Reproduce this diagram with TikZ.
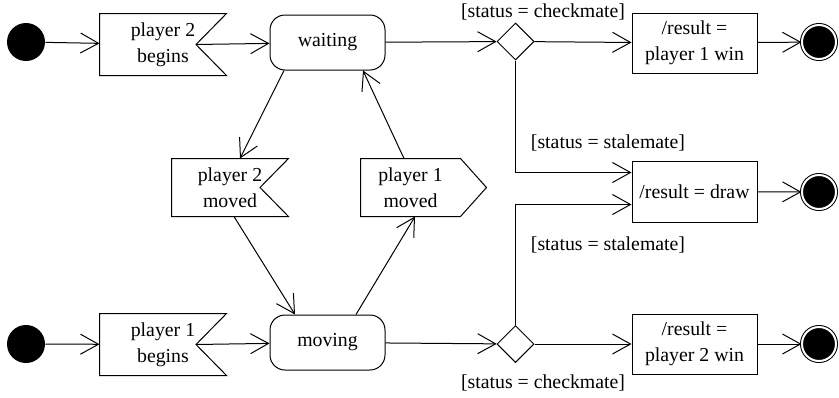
\documentclass[tikz,border=0pt]{standalone}
\usepackage{fontspec}
\setmainfont{Liberation Serif}
\usetikzlibrary{arrows.meta,shapes.geometric}

\begin{document}
\begin{tikzpicture}[
      x=1pt,y=-1pt,line width=1pt,
      >={Straight Barb[length=18pt,width=20pt]},
      font=\fontsize{19.8}{26}\selectfont,
      initial/.style={circle,fill=black,minimum size=38pt,inner sep=0pt},
      final/.style={circle,fill=black,draw,double=white,double distance=2pt,minimum size=34pt,inner sep=0pt},
      state/.style={draw,rounded corners=15pt,minimum width=115pt,minimum height=55pt},
      accept/.style 2 args={align=center,minimum width=#1,minimum height=2*#2,inner sep=0pt,
        append after command={\pgfextra{\draw (\tikzlastnode.north west) -- (\tikzlastnode.north east)
          -- ([xshift=-#2]\tikzlastnode.east) -- (\tikzlastnode.south east)
          -- (\tikzlastnode.south west) -- cycle;}}},
      send/.style 2 args={align=center,minimum width=#1,minimum height=57pt,inner sep=0pt,
        append after command={\pgfextra{\draw (\tikzlastnode.north west) -- (\tikzlastnode.north east)
          -- ([xshift=#2]\tikzlastnode.east) -- (\tikzlastnode.south east)
          -- (\tikzlastnode.south west) -- cycle;}}},
      action/.style={draw,align=center,minimum width=125pt,minimum height=60pt,inner sep=2pt},
      choice/.style={draw,diamond,aspect=1,minimum size=37pt,inner sep=0pt}]
    \useasboundingbox (0,0) rectangle (839,397);
    % top row
    \node[initial] (init1) at (26,42) {};
    \node[accept={126pt}{30.5pt}] (p2begins) at (163,44.5) {player 2\\begins};
    \node[state] (waiting) at (327.5,42.5) {waiting};
    \node[choice] (dtop) at (515.5,41.5) {};
    \node[action] (res1) at (694.5,43) {/result =\\player 1 win};
    \node[final] (final1) at (819,42) {};
    % middle
    \node[accept={116pt}{28.5pt}] (p2moved) at (230,187.5) {player 2\\moved};
    \node[send={99pt}{26pt}] (p1moved) at (410.5,187.5) {player 1\\moved};
    \node[action,minimum height=61pt] (resdraw) at (694.5,191.5) {/result = draw};
    \node[final] (final2) at (819,192) {};
    % bottom row
    \node[initial] (init2) at (26,344) {};
    \node[accept={126pt}{30.5pt}] (p1begins) at (163,344.5) {player 1\\begins};
    \node[state] (moving) at (327.5,342.5) {moving};
    \node[choice] (dbot) at (515.5,344) {};
    \node[action] (res2) at (694.5,344) {/result =\\player 2 win};
    \node[final] (final3) at (819,344) {};
    % guards
    \node (g1) at (543,12) {[status = checkmate]};
    \node (g2) at (608,143) {[status = stalemate]};
    \node (g3) at (608,245) {[status = stalemate]};
    \node (g4) at (543,383) {[status = checkmate]};

    \draw[->] (init1) -- (p2begins);
    \draw[->] ([xshift=-30.5pt]p2begins.east) -- (waiting);
    \draw[->] (waiting) -- (dtop);
    \draw[->] (dtop) -- (res1);
    \draw[->] (res1) -- (final1);
    \draw[->] (init2) -- (p1begins);
    \draw[->] ([xshift=-30.5pt]p1begins.east) -- (moving);
    \draw[->] (moving) -- (dbot);
    \draw[->] (dbot) -- (res2);
    \draw[->] (res2) -- (final3);
    \draw[->] (resdraw) -- (final2);
    \draw[->] (dtop.south) |- ([yshift=19pt]resdraw.west);
    \draw[->] (dbot.north) |- ([yshift=-13pt]resdraw.west);
    \draw[->] ([xshift=-43.5pt]waiting.south) -- ([xshift=10pt]p2moved.north);
    \draw[->] ([xshift=-6.5pt]p1moved.north) -- ([xshift=35.5pt]waiting.south);
    \draw[->] ([xshift=4pt]p2moved.south) -- ([xshift=-32.5pt]moving.north);
    \draw[->] ([xshift=28.5pt]moving.north) -- ([xshift=4.5pt]p1moved.south);
    \end{tikzpicture}
\end{document}
